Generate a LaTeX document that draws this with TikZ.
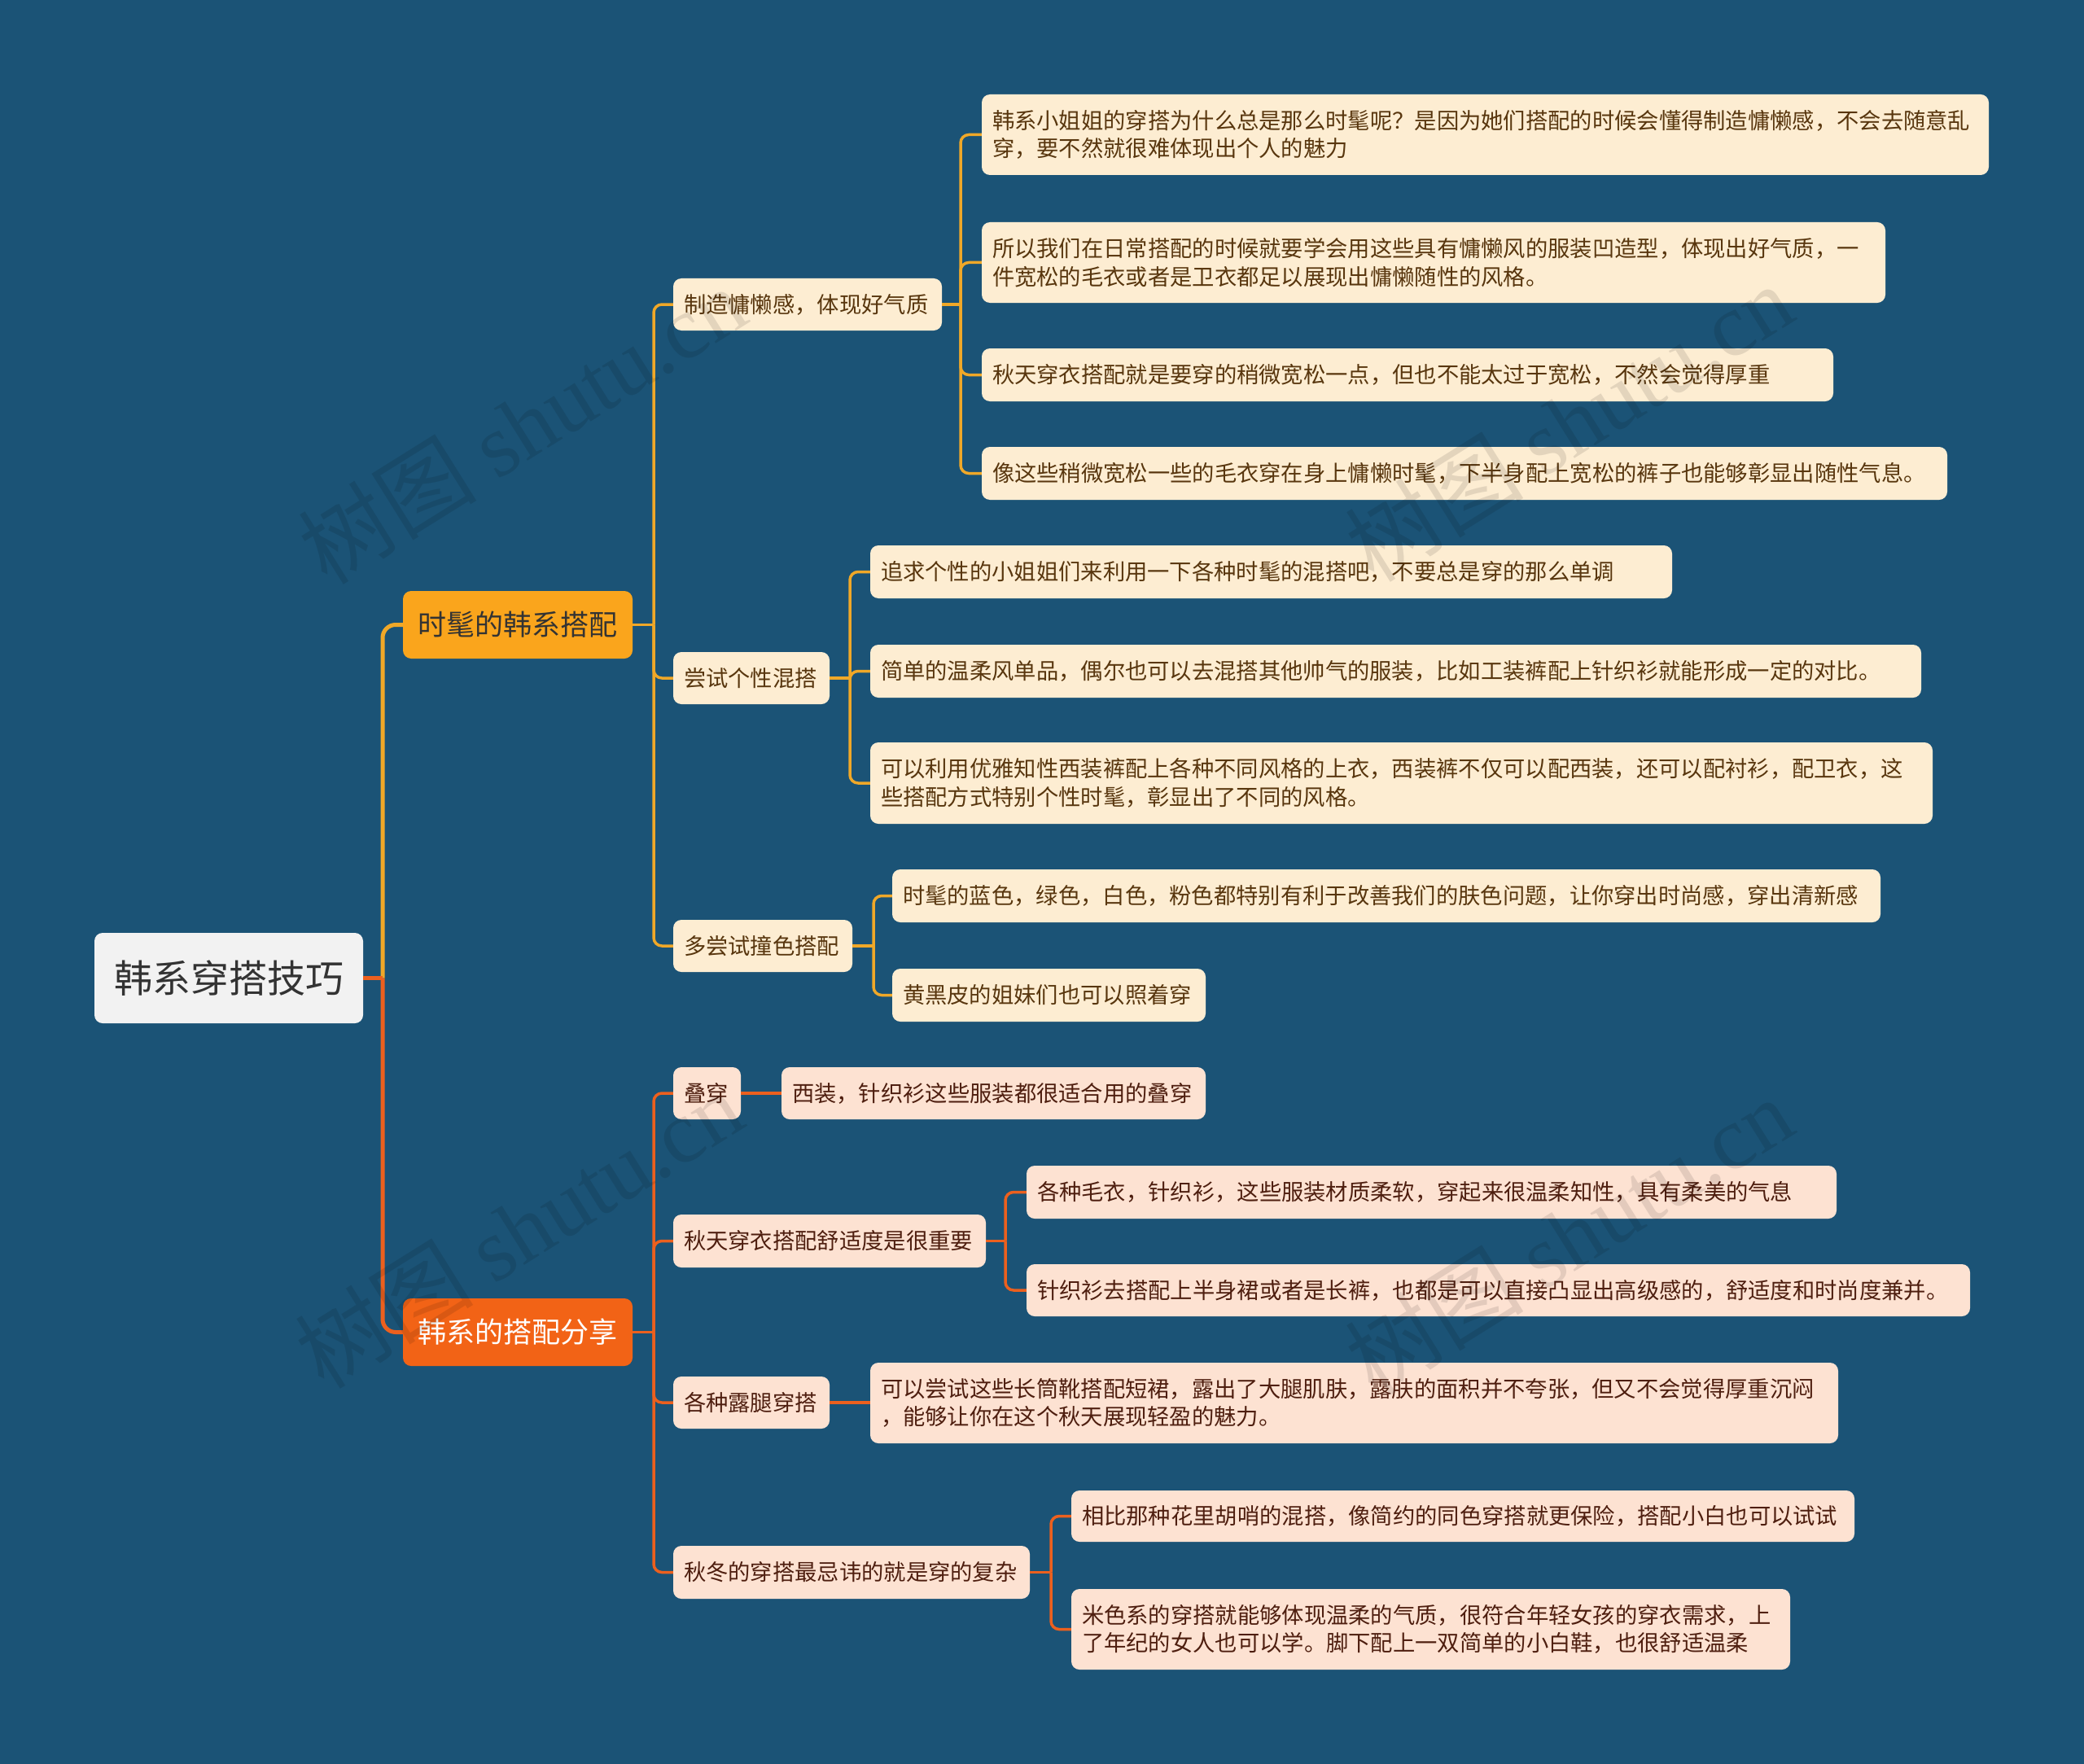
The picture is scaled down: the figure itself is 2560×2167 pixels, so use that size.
\documentclass[tikz,border=0pt]{standalone}
\usepackage{fontspec}
\setmainfont{Noto Sans CJK SC}
\newfontfamily\wmlatin{Liberation Serif}
\definecolor{bg}{RGB}{27,83,118}
\definecolor{lnA}{RGB}{240,168,40}
\definecolor{fillA}{RGB}{250,165,28}
\definecolor{cream}{RGB}{253,237,210}
\definecolor{txA}{RGB}{88,54,14}
\definecolor{lnB}{RGB}{236,96,30}
\definecolor{fillB}{RGB}{242,99,22}
\definecolor{peach}{RGB}{253,226,210}
\definecolor{txB}{RGB}{78,30,15}
\definecolor{rootfill}{RGB}{242,242,242}
\definecolor{roottx}{RGB}{51,51,51}
\tikzset{
  nA/.style={fill=cream, text=txA, rounded corners=10pt, inner xsep=13pt, inner ysep=0pt, align=left, font=\fontsize{27.3}{34.5}\selectfont},
  nB/.style={fill=peach, text=txB, rounded corners=10pt, inner xsep=13pt, inner ysep=0pt, align=left, font=\fontsize{27.3}{34.5}\selectfont},
  lA/.style={fill=fillA, text=black!80, rounded corners=10pt, inner xsep=13pt, inner ysep=0pt, align=center, font=\fontsize{35}{42}\selectfont},
  lB/.style={fill=fillB, text=white, rounded corners=10pt, inner xsep=13pt, inner ysep=0pt, align=center, font=\fontsize{35}{42}\selectfont},
  rootst/.style={fill=rootfill, text=roottx, rounded corners=10pt, inner xsep=13pt, inner ysep=0pt, align=center, font=\fontsize{47}{54}\selectfont},
  cA/.style={draw=lnA, line width=3.5pt, rounded corners=10pt},
  cB/.style={draw=lnB, line width=3.5pt, rounded corners=10pt},
  tA/.style={draw=lnA, line width=5pt, rounded corners=16pt},
  tB/.style={draw=lnB, line width=5pt, rounded corners=16pt},
  wm/.style={text=black, text opacity=0.1, inner sep=0pt, font=\fontsize{110}{120}\selectfont}
}
\newcommand\nd[7]{%
  \pgfmathsetmacro\ndw{#5-#3}%
  \pgfmathsetmacro\ndh{#6-#4}%
  \pgfmathsetmacro\ndt{#5-#3-26}%
  \node[#2, minimum width=\ndw pt, minimum height=\ndh pt, text width=\ndt pt] (#1) at ({(#3+#5)/2},{(#4+#6)/2}) {#7};}
\newcommand\br[4]{%
  \draw[#1, rounded corners=0pt] (#2.east) -- (#2.east -| #3);
  \foreach \cc in {#4} {\draw[#1] (#2.east -| #3) |- (\cc.west);}}
\begin{document}
\begin{tikzpicture}[x=1pt, y=-1pt]
\fill[bg] (0,0) rectangle (2560,2167);
\useasboundingbox (0,0) rectangle (2560,2167);

% nodes
\nd{root}{rootst}{116}{1146}{446}{1257}{韩系穿搭技巧}
\nd{a}{lA}{495}{726}{777}{809}{时髦的韩系搭配}
\nd{b}{lB}{495}{1595}{777}{1678}{韩系的搭配分享}

\nd{a1}{nA}{827}{342}{1157}{406}{制造慵懒感，体现好气质}
\nd{a2}{nA}{827}{801}{1019}{865}{尝试个性混搭}
\nd{a3}{nA}{827}{1130}{1047}{1194}{多尝试撞色搭配}

\nd{a11}{nA}{1206}{116}{2443}{215}{韩系小姐姐的穿搭为什么总是那么时髦呢？是因为她们搭配的时候会懂得制造慵懒感，不会去随意乱\\穿，要不然就很难体现出个人的魅力}
\nd{a12}{nA}{1206}{273}{2316}{372}{所以我们在日常搭配的时候就要学会用这些具有慵懒风的服装凹造型，体现出好气质，一\\件宽松的毛衣或者是卫衣都足以展现出慵懒随性的风格。}
\nd{a13}{nA}{1206}{428}{2252}{493}{秋天穿衣搭配就是要穿的稍微宽松一点，但也不能太过于宽松，不然会觉得厚重}
\nd{a14}{nA}{1206}{549}{2392}{614}{像这些稍微宽松一些的毛衣穿在身上慵懒时髦，下半身配上宽松的裤子也能够彰显出随性气息。}

\nd{a21}{nA}{1069}{670}{2054}{735}{追求个性的小姐姐们来利用一下各种时髦的混搭吧，不要总是穿的那么单调}
\nd{a22}{nA}{1069}{792}{2360}{857}{简单的温柔风单品，偶尔也可以去混搭其他帅气的服装，比如工装裤配上针织衫就能形成一定的对比。}
\nd{a23}{nA}{1069}{912}{2374}{1012}{可以利用优雅知性西装裤配上各种不同风格的上衣，西装裤不仅可以配西装，还可以配衬衫，配卫衣，这\\些搭配方式特别个性时髦，彰显出了不同的风格。}

\nd{a31}{nA}{1096}{1068}{2310}{1133}{时髦的蓝色，绿色，白色，粉色都特别有利于改善我们的肤色问题，让你穿出时尚感，穿出清新感}
\nd{a32}{nA}{1096}{1190}{1481}{1255}{黄黑皮的姐妹们也可以照着穿}

\nd{b1}{nB}{827}{1311}{910}{1375}{叠穿}
\nd{b11}{nB}{960}{1311}{1481}{1375}{西装，针织衫这些服装都很适合用的叠穿}
\nd{b2}{nB}{827}{1492}{1211}{1557}{秋天穿衣搭配舒适度是很重要}
\nd{b21}{nB}{1261}{1432}{2256}{1497}{各种毛衣，针织衫，这些服装材质柔软，穿起来很温柔知性，具有柔美的气息}
\nd{b22}{nB}{1261}{1553}{2420}{1617}{针织衫去搭配上半身裙或者是长裤，也都是可以直接凸显出高级感的，舒适度和时尚度兼并。}
\nd{b3}{nB}{827}{1691}{1019}{1755}{各种露腿穿搭}
\nd{b31}{nB}{1069}{1674}{2258}{1773}{可以尝试这些长筒靴搭配短裙，露出了大腿肌肤，露肤的面积并不夸张，但又不会觉得厚重沉闷\\，能够让你在这个秋天展现轻盈的魅力。}
\nd{b4}{nB}{827}{1899}{1265}{1964}{秋冬的穿搭最忌讳的就是穿的复杂}
\nd{b41}{nB}{1316}{1831}{2278}{1894}{相比那种花里胡哨的混搭，像简约的同色穿搭就更保险，搭配小白也可以试试}
\nd{b42}{nB}{1316}{1952}{2199}{2051}{米色系的穿搭就能够体现温柔的气质，很符合年轻女孩的穿衣需求，上\\了年纪的女人也可以学。脚下配上一双简单的小白鞋，也很舒适温柔}

% junction columns
\coordinate (xr) at (470,0);
\coordinate (x1) at (803,0);
\coordinate (x11) at (1180,0);
\coordinate (x12) at (1044,0);
\coordinate (x13) at (1073,0);
\coordinate (x22) at (1235,0);
\coordinate (x24) at (1291,0);

% connectors
\draw[tA] (root.east -| xr) |- (a.west);
\draw[tB] (root.east -| xr) |- (b.west);
\draw[tB, rounded corners=0pt] (root.east) -- (root.east -| xr);

\br{cA}{a}{x1}{a1,a2,a3}
\br{cA}{a1}{x11}{a11,a12,a13,a14}
\br{cA}{a2}{x12}{a21,a22,a23}
\br{cA}{a3}{x13}{a31,a32}

\br{cB}{b}{x1}{b1,b2,b3,b4}
\draw[cB] (b1.east) -- (b11.west);
\br{cB}{b2}{x22}{b21,b22}
\draw[cB] (b3.east) -- (b3.east -| b31.west);
\br{cB}{b4}{x24}{b41,b42}

% watermarks
\node[wm, rotate=32] (wm1) at (641,522) {树图 {\wmlatin shutu.cn}};
\node[wm, rotate=32] (wm2) at (1927,519) {树图 {\wmlatin shutu.cn}};
\node[wm, rotate=32] (wm3) at (637,1510) {树图 {\wmlatin shutu.cn}};
\node[wm, rotate=32] (wm4) at (1927,1518) {树图 {\wmlatin shutu.cn}};
\end{tikzpicture}
\end{document}
